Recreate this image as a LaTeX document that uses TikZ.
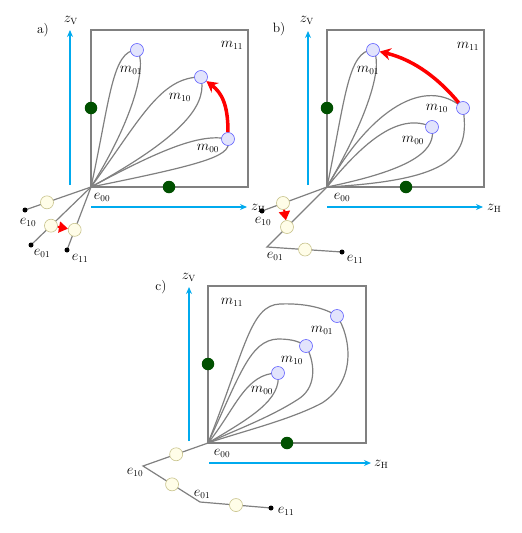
\documentclass[tikz,border=0pt]{standalone}
\usetikzlibrary{arrows.meta,calc}
\definecolor{ecirc}{RGB}{200,195,140}
\definecolor{efill}{RGB}{255,253,232}
\definecolor{mfill}{RGB}{226,228,252}
\definecolor{mdraw}{RGB}{100,100,255}
\definecolor{gdark}{RGB}{0,80,0}
\definecolor{axcyan}{RGB}{0,170,238}
\definecolor{lgray}{RGB}{128,128,128}
\tikzset{
  loopline/.style={draw=lgray, line width=1.2pt},
  boxline/.style={draw=lgray, line width=1.3pt},
  mnode/.style={circle, draw=mdraw, fill=mfill, minimum size=13pt, inner sep=0pt, line width=0.6pt},
  enode/.style={circle, draw=ecirc, fill=efill, minimum size=13pt, inner sep=0pt, line width=0.6pt},
  gdot/.style={circle, fill=gdark, minimum size=12.5pt, inner sep=0pt},
  bdot/.style={circle, fill=black, minimum size=5pt, inner sep=0pt},
  axisline/.style={draw=axcyan, line width=1.6pt, -{Stealth[length=7pt,width=6pt]}},
  redarr/.style={draw=red, line width=3.5pt, -{Stealth[length=11pt,width=12pt]}},
  redsmall/.style={draw=red, line width=2pt, -{Triangle[length=9pt,width=11pt]}},
  lbl/.style={inner sep=0pt},
}
\begin{document}
\begin{tikzpicture}[x=1pt,y=-1pt,font=\fontsize{13.5}{16}\selectfont]
\useasboundingbox (0,0) rectangle (522,533);

% ================= panel a =================
\coordinate (aO) at (91,187);
\coordinate (am01) at (137,50);
\coordinate (am10) at (201,77);
\coordinate (am00) at (228,139);
\draw[boxline] (91,30) rectangle (248,187);
\draw[loopline] (aO) .. controls (110,100) and (112,50) .. (am01) .. controls (147,62) and (136,115) .. (aO);
\draw[loopline] (aO) .. controls (140,120) and (160,77) .. (am10) .. controls (206,100) and (195,130) .. (aO);
\draw[loopline] (aO) .. controls (160,150) and (200,133) .. (am00) .. controls (232,155) and (215,162) .. (aO);
\coordinate (ae10d) at (25,210);
\coordinate (ae01d) at (31,245);
\coordinate (ae11d) at (67,250);
\draw[loopline] (aO) -- (ae10d);
\draw[loopline] (aO) -- (ae01d);
\draw[loopline] (aO) -- (ae11d);
\node[bdot] (ae10) at (ae10d) {};
\node[bdot] (ae01) at (ae01d) {};
\node[bdot] (ae11) at (ae11d) {};
\node[enode] (ay10) at ($(aO)!0.667!(ae10d)$) {};
\node[enode] (ay01) at ($(aO)!0.667!(ae01d)$) {};
\node[enode] (ay11) at ($(aO)!0.68!(ae11d)$) {};
\draw[redsmall] (ay01) -- (ay11);
\node[gdot] (ag1) at (91,108) {};
\node[gdot] (ag2) at (169,187) {};
\node[mnode] (am01n) at (am01) {};
\node[mnode] (am10n) at (am10) {};
\node[mnode] (am00n) at (am00) {};
\draw[redarr] (am00n.north) .. controls (228,105) and (222,93) .. (am10n);
\coordinate (aVs) at (70,185);
\coordinate (aVe) at (70,30);
\coordinate (aHs) at (91,207);
\coordinate (aHe) at (247,207);
\draw[axisline] (aVs) -- (aVe);
\draw[axisline] (aHs) -- (aHe);
\node[lbl] (azv) at (71,20) {$z_{\mathrm{V}}$};
\node[lbl,anchor=west] (azh) at (251,208) {$z_{\mathrm{H}}$};
\node[lbl] (alab) at (43,30) {a)};
\node[lbl] (am11l) at (232,45) {$m_{11}$};
\node[lbl] (am01l) at (131,70) {$m_{01}$};
\node[lbl] (am10l) at (180,97) {$m_{10}$};
\node[lbl] (am00l) at (208,148) {$m_{00}$};
\node[lbl] (ae00l) at (102,197) {$e_{00}$};
\node[lbl] (ae10l) at (28,222) {$e_{10}$};
\node[lbl] (ae01l) at (42,253) {$e_{01}$};
\node[lbl] (ae11l) at (80,258) {$e_{11}$};

% ================= panel b =================
\coordinate (bO) at (327,187);
\coordinate (bm01) at (373,50);
\coordinate (bm10) at (463,108);
\coordinate (bm00) at (432,127);
\draw[boxline] (327,30) rectangle (484,187);
\draw[loopline] (bO) .. controls (345,100) and (348,50) .. (bm01) .. controls (383,62) and (372,110) .. (bO);
\draw[loopline] (bO) .. controls (370,110) and (425,75) .. (bm10) .. controls (470,155) and (455,180) .. (bO);
\draw[loopline] (bO) .. controls (365,140) and (400,112) .. (bm00) .. controls (436,148) and (420,168) .. (bO);
\coordinate (be10d) at (262,211);
\coordinate (bc01) at (267,247);
\coordinate (be11d) at (342,252);
\draw[loopline] (bO) -- (be10d);
\draw[loopline] (bO) -- (bc01) -- (be11d);
\node[bdot] (be10) at (be10d) {};
\node[bdot] (be11) at (be11d) {};
\node[enode] (by10) at (283,203) {};
\node[enode] (by01) at (287,227) {};
\node[enode] (by11) at ($(bc01)!0.507!(be11d)$) {};
\draw[redsmall] (by10) -- (by01);
\node[gdot] (bg1) at (327,108) {};
\node[gdot] (bg2) at (406,187) {};
\node[mnode] (bm01n) at (bm01) {};
\node[mnode] (bm10n) at (bm10) {};
\node[mnode] (bm00n) at (bm00) {};
\draw[redarr] (bm10n) .. controls (440,80) and (415,60) .. (bm01n);
\coordinate (bVs) at (308,185);
\coordinate (bVe) at (308,31);
\coordinate (bHs) at (327,207);
\coordinate (bHe) at (483,207);
\draw[axisline] (bVs) -- (bVe);
\draw[axisline] (bHs) -- (bHe);
\node[lbl] (bzv) at (307,20) {$z_{\mathrm{V}}$};
\node[lbl,anchor=west] (bzh) at (487,208) {$z_{\mathrm{H}}$};
\node[lbl] (blab) at (279,29) {b)};
\node[lbl] (bm11l) at (468,46) {$m_{11}$};
\node[lbl] (bm01l) at (368,70) {$m_{01}$};
\node[lbl] (bm10l) at (437,108) {$m_{10}$};
\node[lbl] (bm00l) at (413,140) {$m_{00}$};
\node[lbl] (be00l) at (342,197) {$e_{00}$};
\node[lbl] (be10l) at (263,221) {$e_{10}$};
\node[lbl] (be01l) at (275,256) {$e_{01}$};
\node[lbl] (be11l) at (355,259) {$e_{11}$};

% ================= panel c =================
\coordinate (cO) at (208,443);
\coordinate (cm01) at (337,316);
\coordinate (cm10) at (306,346);
\coordinate (cm00) at (278,373);
\draw[boxline] (208,286) rectangle (366,443);
\draw[loopline] (cO) .. controls (245,350) and (250,305) .. (280,304) .. controls (305,303) and (325,308) .. (cm01)
   .. controls (350,335) and (358,380) .. (322,403) .. controls (290,420) and (240,432) .. (cO);
\draw[loopline] (cO) .. controls (240,375) and (250,340) .. (278,339) .. controls (293,339) and (300,342) .. (cm10)
   .. controls (314,360) and (318,385) .. (300,398) .. controls (270,418) and (230,432) .. (cO);
\draw[loopline] (cO) .. controls (235,410) and (245,373) .. (cm00) .. controls (282,400) and (250,418) .. (cO);
\coordinate (cc10) at (143,466);
\coordinate (cc01) at (200,502);
\coordinate (ce11d) at (271,508);
\draw[loopline] (cO) -- (cc10) -- (cc01) -- (ce11d);
\node[bdot] (ce11) at (ce11d) {};
\node[enode] (cy10) at ($(cO)!0.49!(cc10)$) {};
\node[enode] (cy01) at ($(cc10)!0.51!(cc01)$) {};
\node[enode] (cy11) at ($(cc01)!0.507!(ce11d)$) {};
\node[gdot] (cg1) at (208,364) {};
\node[gdot] (cg2) at (287,443) {};
\node[mnode] (cm01n) at (cm01) {};
\node[mnode] (cm10n) at (cm10) {};
\node[mnode] (cm00n) at (cm00) {};
\coordinate (cVs) at (189,441);
\coordinate (cVe) at (189,287);
\coordinate (cHs) at (209,463);
\coordinate (cHe) at (371,463);
\draw[axisline] (cVs) -- (cVe);
\draw[axisline] (cHs) -- (cHe);
\node[lbl] (czv) at (189,277) {$z_{\mathrm{V}}$};
\node[lbl,anchor=west] (czh) at (374,464) {$z_{\mathrm{H}}$};
\node[lbl] (clab) at (161,287) {c)};
\node[lbl] (cm11l) at (232,302) {$m_{11}$};
\node[lbl] (cm01l) at (322,330) {$m_{01}$};
\node[lbl] (cm10l) at (292,360) {$m_{10}$};
\node[lbl] (cm00l) at (262,390) {$m_{00}$};
\node[lbl] (ce00l) at (222,453) {$e_{00}$};
\node[lbl] (ce10l) at (135,472) {$e_{10}$};
\node[lbl] (ce01l) at (202,494) {$e_{01}$};
\node[lbl] (ce11l) at (286,511) {$e_{11}$};
\end{tikzpicture}
\end{document}
